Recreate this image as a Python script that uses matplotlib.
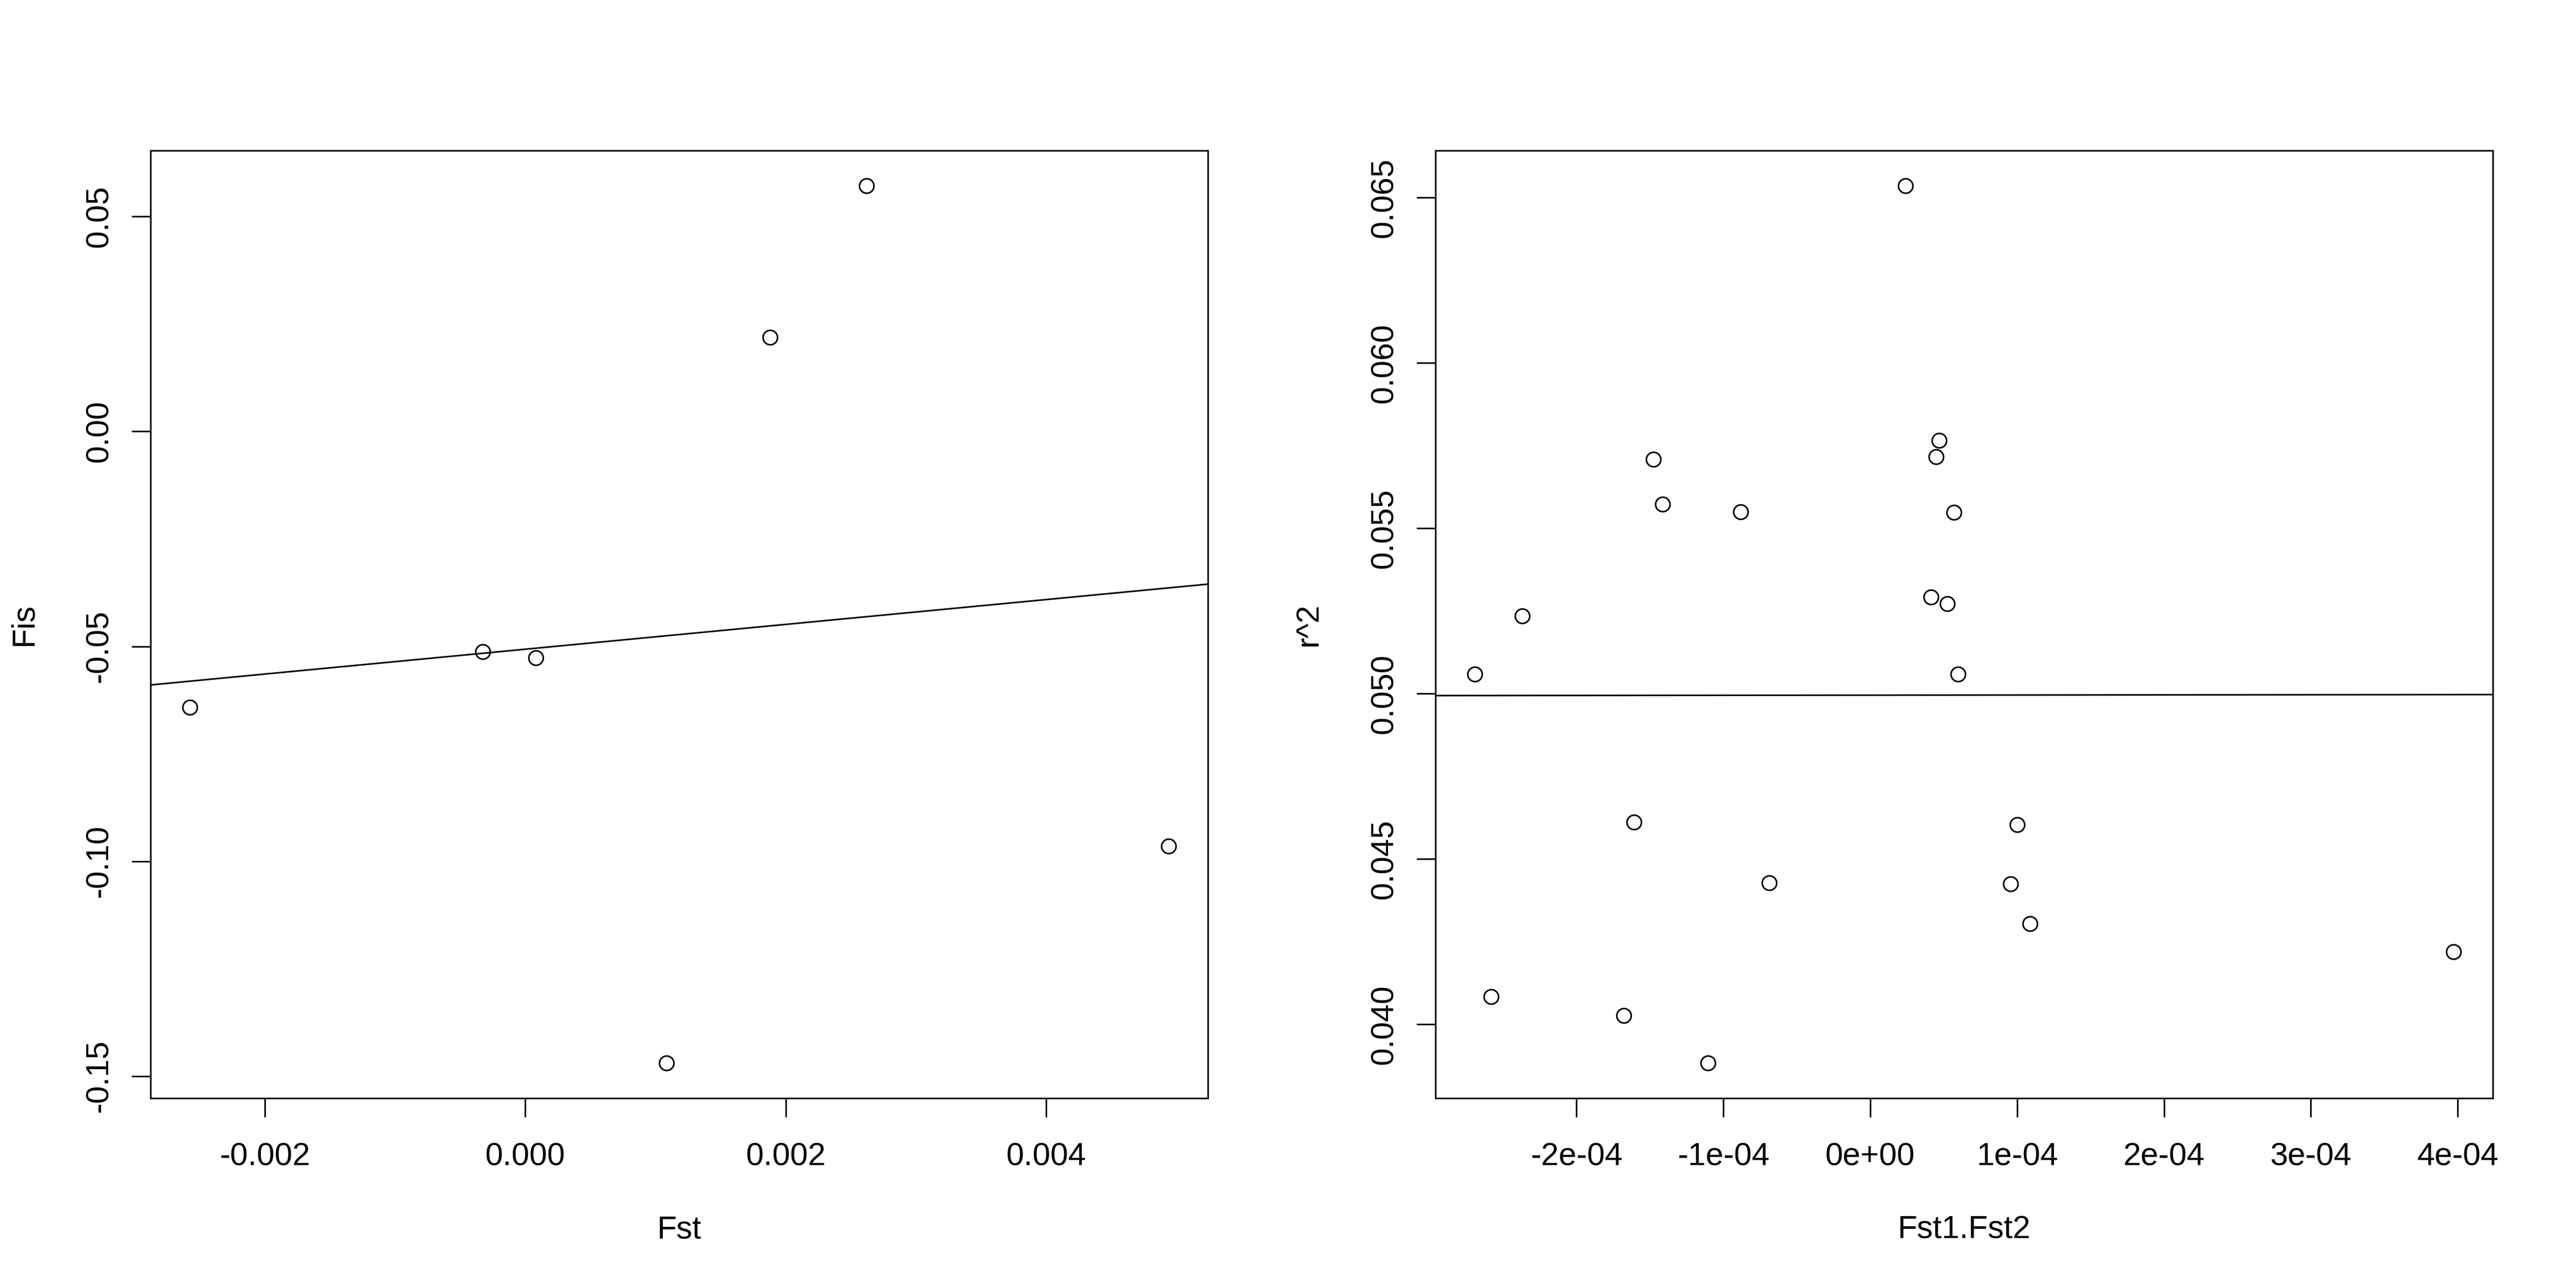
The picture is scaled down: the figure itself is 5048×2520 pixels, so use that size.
import numpy as np
import matplotlib
matplotlib.use("Agg")
import matplotlib.pyplot as plt

plt.rcParams['font.family'] = ['Liberation Sans', 'DejaVu Sans']

# Left panel data
fst = [-0.002578, -0.000328, 0.0000819, 0.001084, 0.001878, 0.002622, 0.004942]
fis = [-0.06424, -0.05128, -0.05261, -0.14697, 0.02192, 0.05719, -0.09646]
left_xticks = [-0.002, 0.000, 0.002, 0.004]
left_xticklabels = ["-0.002", "0.000", "0.002", "0.004"]
left_yticks = [-0.15, -0.10, -0.05, 0.00, 0.05]
left_yticklabels = ["-0.15", "-0.10", "-0.05", "0.00", "0.05"]

# Right panel data
fst12 = [-2.693e-4, -2.581e-4, -2.369e-4, -1.676e-4, -1.609e-4, -1.475e-4, -1.413e-4,
         -1.106e-4, -0.883e-4, -0.687e-4, 0.240e-4, 0.413e-4, 0.447e-4, 0.469e-4,
         0.525e-4, 0.570e-4, 0.598e-4, 0.955e-4, 1.000e-4, 1.089e-4, 3.972e-4]
r2 = [0.050595, 0.040832, 0.052354, 0.040263, 0.046110, 0.057086, 0.055724,
      0.038826, 0.055500, 0.044277, 0.065362, 0.052924, 0.057161, 0.057656,
      0.052725, 0.055476, 0.050595, 0.044252, 0.046036, 0.043038, 0.042195]
right_xticks = [-2e-4, -1e-4, 0.0, 1e-4, 2e-4, 3e-4, 4e-4]
right_xticklabels = ["-2e-04", "-1e-04", "0e+00", "1e-04", "2e-04", "3e-04", "4e-04"]
right_yticks = [0.040, 0.045, 0.050, 0.055, 0.060, 0.065]
right_yticklabels = ["0.040", "0.045", "0.050", "0.055", "0.060", "0.065"]

W, H, DPI = 5048, 2520, 300
fig = plt.figure(figsize=(W / DPI, H / DPI), dpi=DPI)
fig.patch.set_facecolor('white')

FS = 15.0
LW = 0.75

def r_lim(v):
    lo, hi = min(v), max(v)
    d = (hi - lo) * 0.04
    return lo - d, hi + d

def panel(rect, x, y, xt, xtl, yt, ytl, xlabel, ylabel):
    ax = fig.add_axes(rect)
    ax.plot(x, y, linestyle='none', marker='o', markersize=6.8,
            markerfacecolor='none', markeredgecolor='black', markeredgewidth=LW)
    xl = r_lim(x)
    yl = r_lim(y)
    ax.set_xlim(*xl)
    ax.set_ylim(*yl)
    # regression line (abline of lm)
    b, a = np.polyfit(np.array(x), np.array(y), 1)
    xs = np.array(xl)
    ax.plot(xs, a + b * xs, color='black', linewidth=LW)
    ax.set_xticks(xt)
    ax.set_xticklabels(xtl)
    ax.set_yticks(yt)
    ax.set_yticklabels(ytl, rotation=90, va='center')
    ax.tick_params(axis='both', direction='out', length=8.9, width=LW,
                   labelsize=FS, color='black')
    ax.tick_params(axis='x', pad=11.5)
    ax.tick_params(axis='y', pad=8.2)
    for s in ax.spines.values():
        s.set_linewidth(LW)
        s.set_color('black')
    ax.set_xlabel(xlabel, fontsize=FS)
    ax.set_ylabel(ylabel, fontsize=FS)
    ax.xaxis.set_label_coords(0.5, -0.1228)
    ax.yaxis.set_label_coords(-0.1057, 0.5)
    return ax

axl = 295 / W
axw = 2072 / W
axb = (H - 2152) / H
axh = 1857 / H
panel([axl, axb, axw, axh], fst, fis, left_xticks, left_xticklabels,
      left_yticks, left_yticklabels, "Fst", "Fis")
panel([2813 / W, axb, axw, axh], fst12, r2, right_xticks, right_xticklabels,
      right_yticks, right_yticklabels, "Fst1.Fst2", "r^2")

fig.savefig("out.png", dpi=DPI, facecolor='white')
